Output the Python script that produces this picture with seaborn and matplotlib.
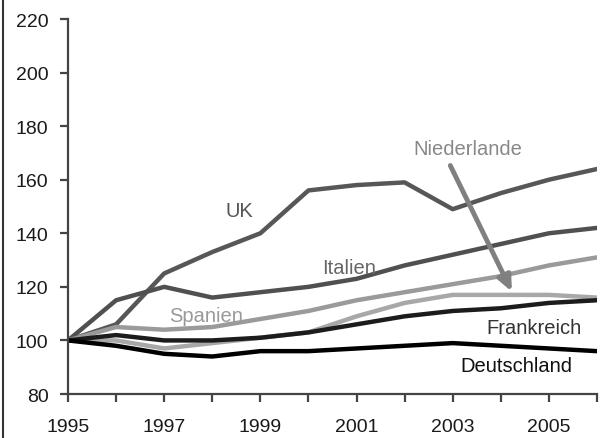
import matplotlib
matplotlib.use("Agg")
import matplotlib.pyplot as plt
import seaborn as sns
import pandas as pd
from matplotlib.lines import Line2D

years = list(range(1995, 2007))
uk = [100, 106, 125, 133, 140, 156, 158, 159, 149, 155, 160, 164]
italien = [100, 115, 120, 116, 118, 120, 123, 128, 132, 136, 140, 142]
spanien = [100, 105, 104, 105, 108, 111, 115, 118, 121, 124, 128, 131]
niederlande = [100, 100, 97, 99, 101, 103, 109, 114, 117, 117, 117, 116]
frankreich = [100, 102, 100, 100, 101, 103, 106, 109, 111, 112, 114, 115]
deutschland = [100, 98, 95, 94, 96, 96, 97, 98, 99, 98, 97, 96]

series = {
    "UK": uk,
    "Italien": italien,
    "Spanien": spanien,
    "Niederlande": niederlande,
    "Frankreich": frankreich,
    "Deutschland": deutschland,
}
colors = {
    "UK": "#575757",
    "Italien": "#505050",
    "Spanien": "#9a9a9a",
    "Niederlande": "#a8a8a8",
    "Frankreich": "#1c1c1c",
    "Deutschland": "#000000",
}

df = pd.DataFrame(
    [(name, y, v) for name, vals in series.items() for y, v in zip(years, vals)],
    columns=["Land", "Jahr", "Index"],
)

sns.set_style("ticks")
plt.rcParams["font.family"] = ["Liberation Sans", "DejaVu Sans"]

fig = plt.figure(figsize=(6.03, 4.39), dpi=100)
ax = fig.add_axes([68 / 603, 44 / 439, 529 / 603, 375 / 439])

sns.lineplot(data=df, x="Jahr", y="Index", hue="Land", palette=colors,
             linewidth=3.2, legend=False, ax=ax)

ax.set_xlim(1995, 2006)
ax.set_ylim(80, 220)
ax.set_xticks(years)
ax.set_xticklabels([str(y) if y % 2 == 1 else "" for y in years])
ax.set_yticks(range(80, 221, 20))
ax.set_xlabel("")
ax.set_ylabel("")
sns.despine(ax=ax)
for s in ["left", "bottom"]:
    ax.spines[s].set_color("#444444")
    ax.spines[s].set_linewidth(1.6)
ax.tick_params(axis="both", colors="#444444", labelcolor="#1a1a1a",
               labelsize=14, width=1.6, length=6)
ax.tick_params(axis="x", pad=11)
ax.tick_params(axis="y", pad=8)

labels = [
    ("UK", 1998.57, 148.5, "#555555"),
    ("Niederlande", 2003.32, 171.6, "#888888"),
    ("Italien", 2000.85, 127.2, "#666666"),
    ("Spanien", 1997.88, 109.3, "#999999"),
    ("Frankreich", 2004.69, 104.9, "#333333"),
    ("Deutschland", 2004.32, 90.7, "#111111"),
]
for txt, x, y, c in labels:
    ax.text(x, y, txt, color=c, fontsize=14.5, ha="center", va="center")

ax.annotate("", xy=(2004.23, 118.2), xytext=(2002.95, 165.3),
            arrowprops=dict(arrowstyle="-|>,head_length=0.9,head_width=0.4",
                            color="#808080", lw=3.5, shrinkA=0, shrinkB=0))

fig.add_artist(Line2D([3 / 603, 3 / 603], [0, 1], color="#333333", lw=1.5,
                      transform=fig.transFigure))

fig.savefig("out.png", dpi=100)
